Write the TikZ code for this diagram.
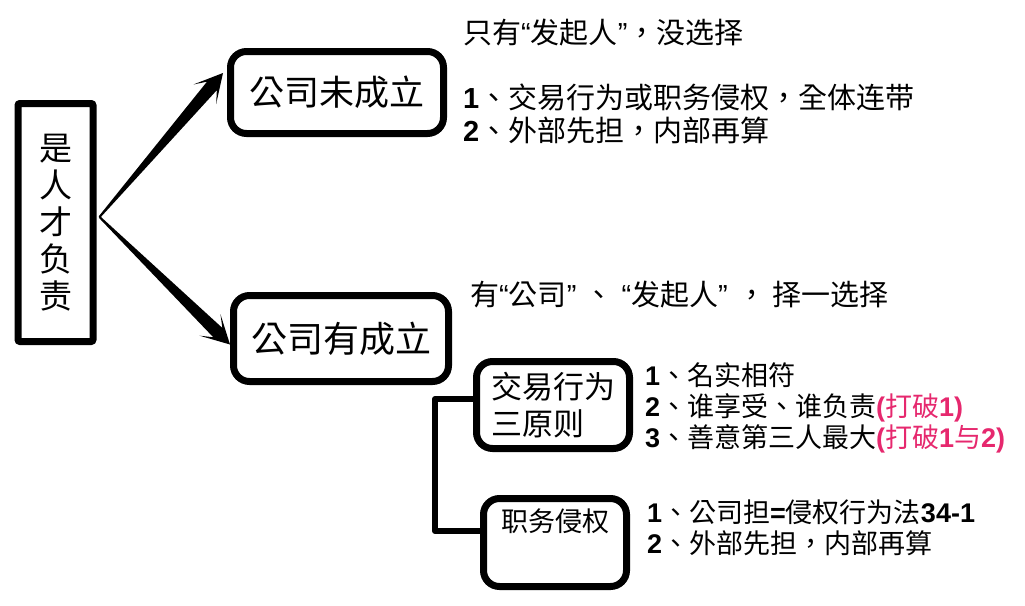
\documentclass[tikz,border=0pt]{standalone}
\usepackage{fontspec}
\setmainfont{Noto Sans CJK TC}
\newfontfamily\lsfont{Liberation Sans}
\usetikzlibrary{calc}
\definecolor{pinkred}{HTML}{E6286E}
\newcommand\mydig[1]{{\lsfont\bfseries #1}}
\newcommand\myLq{{\lsfont “}}
\newcommand\myRq{{\lsfont ”}}
\begin{document}
\begin{tikzpicture}[x=1pt,y=-1pt,
  box/.style={draw, line width=7pt, rounded corners=16pt, inner sep=0pt},
  txt/.style={anchor=west, inner sep=0pt, font=\fontsize{29}{34}\selectfont},
  txtb/.style={anchor=west, inner sep=0pt, font=\fontsize{27}{32}\selectfont}]
\useasboundingbox (0,0) rectangle (1025,605);
\fill[white] (0,0) rectangle (1025,605);

\node[box, rounded corners=2pt, minimum width=75pt, minimum height=238pt, align=center,
      font=\fontsize{33}{37}\selectfont] (L) at (55.5,222.5) {是\\人\\才\\负\\责};
\node[box, minimum width=213pt, minimum height=82pt, font=\fontsize{35}{40}\selectfont] (A) at (337,92.5) {公司未成立};
\node[box, minimum width=215pt, minimum height=86pt, font=\fontsize{36}{40}\selectfont] (B) at (341,338.5) {公司有成立};
\node[box, minimum width=153pt, minimum height=87pt, align=left, font=\fontsize{31}{37}\selectfont] (J) at (553,405) {交易行为\\三原则};
\node[box, minimum width=143pt, minimum height=88pt, text height=29pt, text depth=51pt,
      font=\fontsize{27}{30}\selectfont] (Z) at (555,542.5) {职务侵权};

% tapered arrows
\coordinate (o) at ($(L.east)+(3,-5.5)$);
\coordinate (ta) at ($(A.west)+(-4,-19.5)$);
\coordinate (tb) at ($(B.west)+(0,6)$);
\foreach \t in {ta,tb}{
  \coordinate (c) at ($(\t)!17pt!(o)$);
  \coordinate (b) at ($(\t)!28pt!(o)$);
  \fill ($(o)!1pt!90:(\t)$) -- ($(c)!6.5pt!-90:(o)$) -- ($(b)!15pt!-90:(o)$) -- (\t)
        -- ($(b)!15pt!90:(o)$) -- ($(c)!6.5pt!90:(o)$) -- ($(o)!1pt!-90:(\t)$) -- cycle;
}

% bracket
\coordinate (bt) at (435,399);
\coordinate (bb) at (435,531);
\draw[line width=6pt, line cap=round, line join=round] (bt -| J.west) -- (bt) -- (bb) -- (bb -| Z.west);

% texts
\node[txt] (t1) at (463,33) {只有\myLq 发起人\myRq ，没选择};
\node[txt] (t2) at (463,97) {\mydig{1}、交易行为或职务侵权，全体连带};
\node[txt] (t3) at (463,130) {\mydig{2}、外部先担，内部再算};
\node[txt] (t4) at (470,295) {有\myLq 公司\myRq\hspace{8pt}、\hspace{8pt}\myLq 发起人\myRq\hspace{10pt}，\hspace{6pt}择一选择};
\node[txtb] (r1) at (645,375) {\mydig{1}、名实相符};
\node[txtb] (r2) at (645,408) {\mydig{2}、谁享受、谁负责\textcolor{pinkred}{\mydig{(}打破\mydig{1)}}};
\node[txtb] (r3) at (645,439) {\mydig{3}、善意第三人最大\textcolor{pinkred}{\mydig{(}打破\mydig{1}与\mydig{2)}}};
\node[txtb] (s1) at (647,512) {\mydig{1}、公司担\mydig{=}侵权行为法\mydig{34-1}};
\node[txtb] (s2) at (647,543) {\mydig{2}、外部先担，内部再算};
\end{tikzpicture}
\end{document}
